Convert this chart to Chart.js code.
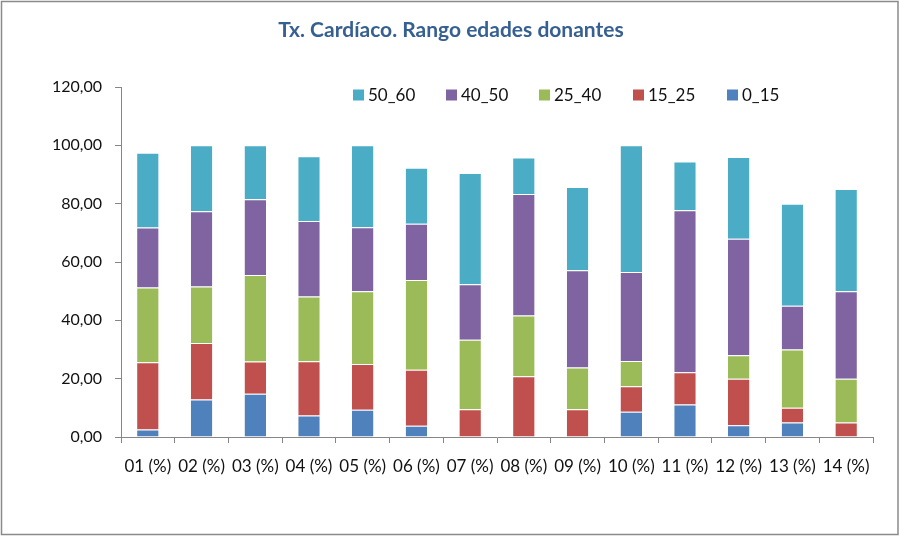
<!DOCTYPE html>
<html>
<head>
<meta charset="utf-8">
<script src="https://cdn.jsdelivr.net/npm/chart.js@4"></script>
<style>
html,body{margin:0;padding:0;background:#fff;}
#wrap{width:903px;height:536px;position:relative;}
</style>
</head>
<body>
<div id="wrap"><canvas id="c" width="903" height="536"></canvas></div>
<script>
const categories = ["01 (%)","02 (%)","03 (%)","04 (%)","05 (%)","06 (%)","07 (%)","08 (%)","09 (%)","10 (%)","11 (%)","12 (%)","13 (%)","14 (%)"];
const s0_15  = [2.56, 12.90, 14.81, 7.41, 9.38, 3.85, 0, 0, 0, 8.70, 11.11, 4.00, 5.00, 0];
const s15_25 = [23.08, 19.35, 11.11, 18.52, 15.63, 19.23, 9.52, 20.83, 9.52, 8.70, 11.11, 16.00, 5.00, 5.00];
const s25_40 = [25.64, 19.35, 29.63, 22.22, 25.00, 30.77, 23.81, 20.83, 14.29, 8.70, 0, 8.00, 20.00, 15.00];
const s40_50 = [20.51, 25.81, 25.93, 25.93, 21.88, 19.23, 19.05, 41.67, 33.33, 30.43, 55.56, 40.00, 15.00, 30.00];
const s50_60 = [25.64, 22.58, 18.52, 22.22, 28.13, 19.23, 38.10, 12.50, 28.57, 43.48, 16.67, 28.00, 35.00, 35.00];
const yTicks = [0, 20, 40, 60, 80, 100, 120];
const titleText = "Tx. Cardíaco. Rango edades donantes";

const FONT = "Lato, 'Open Sans', sans-serif";
const mk = (label, data, color) => ({label, data, backgroundColor: color, borderColor: 'rgba(255,255,255,0.45)', borderWidth: {top:1}, borderSkipped: false, categoryPercentage: 1, barPercentage: 0.4});
const datasets = [
  mk("0_15", s0_15, "#4F81BD"),
  mk("15_25", s15_25, "#C0504D"),
  mk("25_40", s25_40, "#9BBB59"),
  mk("40_50", s40_50, "#8064A2"),
  mk("50_60", s50_60, "#4BACC6")
];

const deco = {
  id: 'deco',
  afterDraw(chart) {
    const ctx = chart.ctx;
    ctx.save();
    ctx.strokeStyle = '#8a8a8a';
    ctx.lineWidth = 1.5;
    ctx.strokeRect(1.5, 1.5, 896.5, 533);
    ctx.fillStyle = '#376092';
    ctx.font = "bold 21px " + FONT;
    ctx.textAlign = 'center';
    ctx.textBaseline = 'middle';
    ctx.fillText(titleText, 451, 30);
    const xs = [353, 446, 539, 633, 727];
    const ds = chart.data.datasets.slice().reverse();
    ctx.font = "17px " + FONT;
    ctx.textAlign = 'left';
    ds.forEach((d, i) => {
      ctx.fillStyle = d.backgroundColor;
      ctx.fillRect(xs[i], 89.5, 11, 11);
      ctx.fillStyle = '#111';
      ctx.fillText(d.label, xs[i] + 15, 95.5);
    });
    ctx.restore();
  }
};

new Chart(document.getElementById('c'), {
  type: 'bar',
  data: { labels: categories, datasets },
  options: {
    responsive: false,
    animation: false,
    layout: { padding: { top: 87, right: 30, bottom: 0, left: 0 } },
    plugins: { legend: { display: false }, title: { display: false }, tooltip: { enabled: false } },
    scales: {
      x: {
        stacked: true,
        grid: { drawOnChartArea: false, tickLength: 6, color: '#868686', offset: true },
        border: { color: '#868686', width: 1 },
        ticks: { color: '#111', font: { family: FONT, size: 17 }, padding: 13, maxRotation: 0, autoSkip: false },
        afterFit(s) { s.height = 99; }
      },
      y: {
        stacked: true,
        min: 0, max: 120,
        afterBuildTicks(s) { s.ticks = yTicks.map(v => ({ value: v })); },
        grid: { drawOnChartArea: false, tickLength: 6, color: '#868686' },
        border: { color: '#868686', width: 1 },
        ticks: { color: '#111', font: { family: FONT, size: 16 }, padding: 13,
          callback: v => v.toFixed(2).replace('.', ',') },
        afterFit(s) { s.width = 121; }
      }
    }
  },
  plugins: [deco]
});
</script>
</body>
</html>
